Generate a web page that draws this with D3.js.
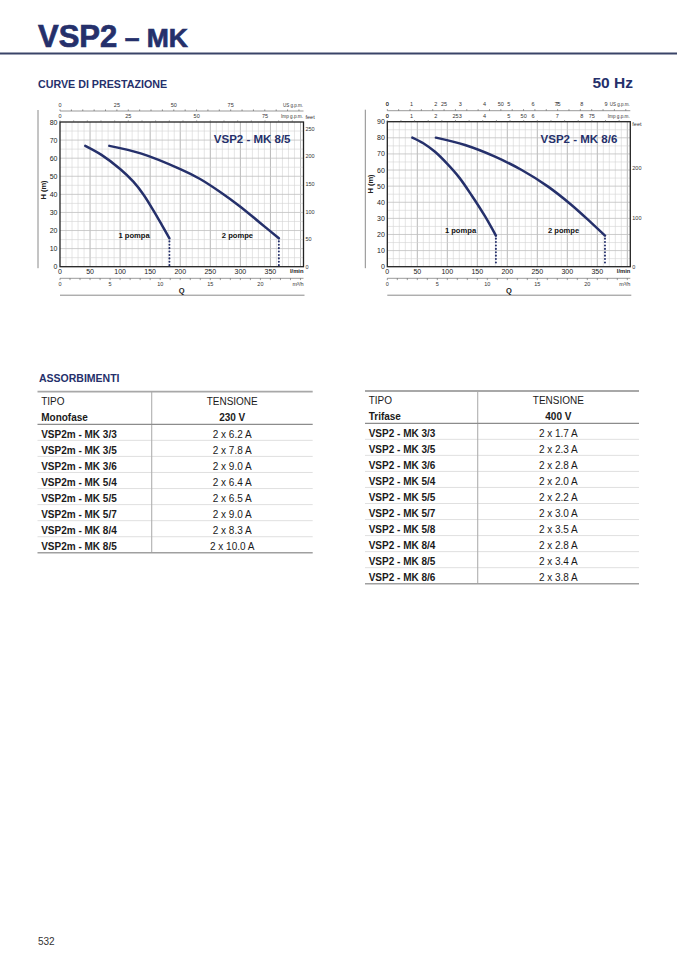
<!DOCTYPE html>
<html><head><meta charset="utf-8">
<script src="https://cdn.jsdelivr.net/npm/d3@7"></script>
<style>
body{margin:0;background:#fff}
svg{display:block}
text{font-family:"Liberation Sans",Arial,Helvetica,sans-serif}
</style>
</head><body>
<svg id="page" width="677" height="958"></svg>
<script>
// ---------------- DATA ----------------
const flowTicks = [0, 50, 100, 150, 200, 250, 300, 350];          // l/min
const m3hTicks = [0, 5, 10, 15, 20];                               // m³/h
const usGpmTicks = [0, 25, 50, 75];
const impGpmTicks = [0, 25, 50, 75];
const head85Ticks = [0, 10, 20, 30, 40, 50, 60, 70, 80];
const feet85Ticks = [0, 50, 100, 150, 200, 250];
const head86Ticks = [0, 10, 20, 30, 40, 50, 60, 70, 80, 90];
const feet86Ticks = [0, 100, 200];
const extraUsTicks86 = [0, 1, 2, 3, 4, 5, 6, 7, 8, 9];
const extraImpTicks86 = [0, 1, 2, 3, 4, 5, 6, 7, 8];

// [Q l/min, H m]
const mk85One = [[42,66.8],[69,61.8],[100,54],[122,47],[139,39.8],[155.5,31],[169.5,23],[182,15.7]];
const mk85Two = [[82,66.8],[135.5,62.5],[201,53.8],[233,48.5],[267,41.2],[300,33.2],[333,24.2],[364,15.7]];
const mk86One = [[41.7,80.1],[60,76.6],[79.5,71.3],[100,63.8],[120,55.3],[140.7,44.2],[163,31.2],[181,19.3]];
const mk86Two = [[81,80.1],[129.5,75.5],[179.5,68.3],[224,60],[268,49.7],[307,38.3],[341,26.9],[362.8,19.3]];

const monoModels = ["VSP2m - MK 3/3","VSP2m - MK 3/5","VSP2m - MK 3/6","VSP2m - MK 5/4","VSP2m - MK 5/5","VSP2m - MK 5/7","VSP2m - MK 8/4","VSP2m - MK 8/5"];
const monoAmps = ["2 x 6.2 A","2 x 7.8 A","2 x 9.0 A","2 x 6.4 A","2 x 6.5 A","2 x 9.0 A","2 x 8.3 A","2 x 10.0 A"];
const triModels = ["VSP2 - MK 3/3","VSP2 - MK 3/5","VSP2 - MK 3/6","VSP2 - MK 5/4","VSP2 - MK 5/5","VSP2 - MK 5/7","VSP2 - MK 5/8","VSP2 - MK 8/4","VSP2 - MK 8/5","VSP2 - MK 8/6"];
const triAmps = ["2 x 1.7 A","2 x 2.3 A","2 x 2.8 A","2 x 2.0 A","2 x 2.2 A","2 x 3.0 A","2 x 3.5 A","2 x 2.8 A","2 x 3.4 A","2 x 3.8 A"];

// unit conversions (l/min per unit)
const L_US = 3.785, L_IMP = 4.546, L_M3H = 16.667, M_FT = 0.3048, L_EXTRA = 40.5;
const Q_MAX = 405;

// ---------------- STYLE ----------------
const NAVY = "#25306b";
const svg = d3.select("#page");

// header
const title = svg.append("text").attr("x", 38).attr("y", 46.5)
  .attr("fill", NAVY).attr("stroke", NAVY).attr("stroke-width", 0.7)
  .attr("font-weight", "bold").attr("font-size", 31);
title.append("tspan").text("VSP2");
title.append("tspan").attr("font-size", 26.5).text(" – MK");
svg.append("line").attr("x1", 0).attr("x2", 677).attr("y1", 53.5).attr("y2", 53.5)
  .attr("stroke", "#3a4468").attr("stroke-width", 1.8);
svg.append("text").attr("x", 38).attr("y", 88).attr("fill", NAVY)
  .attr("font-weight", "bold").attr("font-size", 10.7).text("CURVE DI PRESTAZIONE");
svg.append("text").attr("x", 633).attr("y", 88).attr("text-anchor", "end").attr("fill", NAVY)
  .attr("font-weight", "bold").attr("font-size", 15.5).text("50 Hz");

function drawChart(cfg) {
  const g = svg.append("g");
  const x = d3.scaleLinear().domain([0, Q_MAX]).range([cfg.x0, cfg.x1]);
  const y = d3.scaleLinear().domain([0, cfg.hMax]).range([cfg.yBot, cfg.yTop]);
  const yFt = d3.scaleLinear().domain([0, cfg.hMax / M_FT]).range([cfg.yBot, cfg.yTop]);

  // outer guide lines
  g.append("line").attr("x1", cfg.x0 - 22).attr("x2", cfg.x0 - 22)
    .attr("y1", cfg.yTop - 12).attr("y2", cfg.yBot + 1.5).attr("stroke", "#8a8a8a").attr("stroke-width", 1);
  g.append("line").attr("x1", cfg.x0).attr("x2", cfg.x1 + 1)
    .attr("y1", cfg.yBot + 28.5).attr("y2", cfg.yBot + 28.5).attr("stroke", "#8a8a8a").attr("stroke-width", 1);

  // grid
  const vGrid = d3.range(10, Q_MAX, 10);
  g.selectAll(null).data(vGrid).join("line")
    .attr("x1", d => x(d)).attr("x2", d => x(d)).attr("y1", cfg.yTop).attr("y2", cfg.yBot)
    .attr("stroke", d => d % 50 === 0 ? "#b0b0b0" : "#d4d4d4")
    .attr("stroke-width", d => d % 50 === 0 ? 0.9 : 0.6);
  const hGrid = d3.range(5, cfg.hMax, 5);
  g.selectAll(null).data(hGrid).join("line")
    .attr("x1", cfg.x0).attr("x2", cfg.x1).attr("y1", d => y(d)).attr("y2", d => y(d))
    .attr("stroke", d => d % 10 === 0 ? "#c0c0c0" : "#d4d4d4")
    .attr("stroke-width", d => d % 10 === 0 ? 0.8 : 0.6);

  g.append("rect").attr("x", cfg.x0).attr("y", cfg.yTop)
    .attr("width", cfg.x1 - cfg.x0).attr("height", cfg.yBot - cfg.yTop)
    .attr("fill", "none").attr("stroke", "#222").attr("stroke-width", 1.3);

  // left H ticks
  g.selectAll(null).data(cfg.hTicks).join("text")
    .attr("x", cfg.x0 - 2.5).attr("y", d => y(d) + 2.5).attr("text-anchor", "end")
    .attr("font-size", 7).attr("fill", "#222").text(d => d);
  g.append("text").attr("transform", `translate(${cfg.x0 - 14},${cfg.hLabelY}) rotate(-90)`)
    .attr("text-anchor", "middle").attr("font-size", 7.5).attr("font-weight", "bold").attr("fill", "#222").text("H (m)");

  // right feet ticks
  g.selectAll(null).data(cfg.feetTicks).join("text")
    .attr("x", cfg.x1 + 2).attr("y", d => yFt(d) + 2).attr("font-size", 5.5).attr("fill", "#333").text(d => d);
  g.append("text").attr("x", cfg.x1 + 2).attr("y", cfg.yTop + cfg.feetDy).attr("font-size", 5.5)
    .attr("fill", "#333").text("feet");

  // bottom l/min
  g.selectAll(null).data(flowTicks).join("text")
    .attr("x", d => x(d)).attr("y", cfg.yBot + 7).attr("text-anchor", "middle")
    .attr("font-size", 7).attr("fill", "#222").text(d => d);
  g.append("text").attr("x", cfg.x1).attr("y", cfg.yBot + 6.5).attr("text-anchor", "end")
    .attr("font-size", 5.8).attr("font-weight", "bold").attr("fill", "#222").text("l/min");

  // m³/h axis
  const ym = cfg.yBot + 11.6;
  g.append("line").attr("x1", cfg.x0).attr("x2", cfg.x1).attr("y1", ym).attr("y2", ym)
    .attr("stroke", "#555").attr("stroke-width", 0.6);
  g.selectAll(null).data(d3.range(0, Q_MAX / L_M3H, 1)).join("line")
    .attr("x1", d => x(d * L_M3H)).attr("x2", d => x(d * L_M3H)).attr("y1", ym).attr("y2", ym + 1.8)
    .attr("stroke", "#555").attr("stroke-width", 0.6);
  g.selectAll(null).data(m3hTicks).join("text")
    .attr("x", d => x(d * L_M3H)).attr("y", ym + 7.5).attr("text-anchor", "middle")
    .attr("font-size", 5.5).attr("fill", "#333").text(d => d);
  g.append("text").attr("x", cfg.x1).attr("y", ym + 7.5).attr("text-anchor", "end")
    .attr("font-size", 5.5).attr("fill", "#333").text("m³/h");
  g.append("text").attr("x", (cfg.x0 + cfg.x1) / 2).attr("y", cfg.yBot + 26).attr("text-anchor", "middle")
    .attr("font-size", 7.5).attr("font-weight", "bold").attr("fill", "#222").text("Q");

  // top US g.p.m. axis
  const yu = cfg.yTop - 11;
  g.append("line").attr("x1", cfg.x0).attr("x2", cfg.x1).attr("y1", yu).attr("y2", yu)
    .attr("stroke", "#555").attr("stroke-width", 0.6);
  g.selectAll(null).data(d3.range(0, Q_MAX / L_US, 5)).join("line")
    .attr("x1", d => x(d * L_US)).attr("x2", d => x(d * L_US)).attr("y1", yu).attr("y2", yu - 1.6)
    .attr("stroke", "#555").attr("stroke-width", 0.6);
  const usLabels = usGpmTicks.map(d => ({q: d * L_US, t: d}))
    .concat(cfg.extraUs.map(d => ({q: d * L_EXTRA, t: d})));
  g.selectAll(null).data(usLabels).join("text")
    .attr("x", d => x(d.q)).attr("y", yu - 4.5).attr("text-anchor", "middle")
    .attr("font-size", 5.5).attr("fill", "#333").text(d => d.t);
  g.append("text").attr("x", cfg.x1 - 0.5).attr("y", yu - 4.5).attr("text-anchor", "end")
    .attr("font-size", 5.3).attr("fill", "#333")
    .attr("textLength", 20).attr("lengthAdjust", "spacingAndGlyphs").text("US g.p.m.");

  // top Imp g.p.m.
  g.selectAll(null).data(d3.range(0, Q_MAX / L_IMP, 5)).join("line")
    .attr("x1", d => x(d * L_IMP)).attr("x2", d => x(d * L_IMP)).attr("y1", cfg.yTop).attr("y2", cfg.yTop - 1.6)
    .attr("stroke", "#555").attr("stroke-width", 0.6);
  const impLabels = impGpmTicks.map(d => ({q: d * L_IMP, t: d}))
    .concat(cfg.extraImp.map(d => ({q: d * L_EXTRA, t: d})));
  g.selectAll(null).data(impLabels).join("text")
    .attr("x", d => x(d.q)).attr("y", cfg.yTop - 3.8).attr("text-anchor", "middle")
    .attr("font-size", 5.5).attr("fill", "#333").text(d => d.t);
  g.append("text").attr("x", cfg.x1 - 0.5).attr("y", cfg.yTop - 3.8).attr("text-anchor", "end")
    .attr("font-size", 5.3).attr("fill", "#333")
    .attr("textLength", 22).attr("lengthAdjust", "spacingAndGlyphs").text("Imp g.p.m.");

  // chart title
  g.append("text").attr("x", cfg.x1 - 13).attr("y", cfg.yTop + 21.3).attr("text-anchor", "end")
    .attr("font-size", 11.5).attr("font-weight", "bold").attr("fill", NAVY).text(cfg.title);

  // curves
  const line = d3.line().x(d => x(d[0])).y(d => y(d[1])).curve(d3.curveCatmullRom.alpha(0.5));
  [cfg.one, cfg.two].forEach(s => {
    g.append("path").attr("d", line(s)).attr("fill", "none").attr("stroke", NAVY)
      .attr("stroke-width", 2.5).attr("stroke-linecap", "round");
    const e = s[s.length - 1];
    g.append("line").attr("x1", x(e[0])).attr("x2", x(e[0])).attr("y1", y(e[1]) + 3).attr("y2", y(0) - 1.5)
      .attr("stroke", NAVY).attr("stroke-width", 2).attr("stroke-linecap", "round")
      .attr("stroke-dasharray", "0.1 3.3");
  });
  const e1 = cfg.one[cfg.one.length - 1], e2 = cfg.two[cfg.two.length - 1];
  g.append("text").attr("x", x(e1[0]) - 51).attr("y", y(e1[1]) + cfg.labelDy)
    .attr("font-size", 7.6).attr("font-weight", "bold").attr("fill", "#111").text("1 pompa");
  g.append("text").attr("x", x(e2[0]) - 57).attr("y", y(e2[1]) + cfg.labelDy)
    .attr("font-size", 7.6).attr("font-weight", "bold").attr("fill", "#111").text("2 pompe");
}

drawChart({x0: 60, x1: 303.5, yTop: 122, yBot: 266.7, hMax: 80, hTicks: head85Ticks, feetTicks: feet85Ticks,
  one: mk85One, two: mk85Two, title: "VSP2 - MK 8/5", extraUs: [], extraImp: [], hLabelY: 190, feetDy: -3, labelDy: -0.5});
drawChart({x0: 387.3, x1: 630.3, yTop: 121.7, yBot: 266.7, hMax: 90, hTicks: head86Ticks, feetTicks: feet86Ticks,
  one: mk86One, two: mk86Two, title: "VSP2 - MK 8/6", extraUs: extraUsTicks86, extraImp: extraImpTicks86, hLabelY: 184, feetDy: 4, labelDy: -2.5});

// ---------------- TABLES ----------------
svg.append("text").attr("x", 39).attr("y", 381.7).attr("fill", NAVY)
  .attr("font-weight", "bold").attr("font-size", 10.5).text("ASSORBIMENTI");

function drawTable(t) {
  const g = svg.append("g");
  const rowY = d3.scaleLinear().domain([0, 1]).range([t.headLine, t.headLine + t.rowH]);
  const n = t.models.length;
  const bottom = rowY(n);
  const vc = (t.xDiv + t.x1) / 2;
  // row separators
  g.selectAll(null).data(d3.range(1, n)).join("line")
    .attr("x1", t.x0).attr("x2", t.x1).attr("y1", d => rowY(d)).attr("y2", d => rowY(d))
    .attr("stroke", "#d2d2d2").attr("stroke-width", 0.7);
  g.append("line").attr("x1", t.xDiv).attr("x2", t.xDiv).attr("y1", t.top).attr("y2", bottom)
    .attr("stroke", "#b0b0b0").attr("stroke-width", 1.1);
  g.append("line").attr("x1", t.x0).attr("x2", t.x1).attr("y1", t.top).attr("y2", t.top)
    .attr("stroke", "#a8a8a8").attr("stroke-width", 1.8);
  g.append("line").attr("x1", t.x0).attr("x2", t.x1).attr("y1", t.headLine).attr("y2", t.headLine)
    .attr("stroke", "#8c8c8c").attr("stroke-width", 1.2);
  g.append("line").attr("x1", t.x0).attr("x2", t.x1).attr("y1", bottom).attr("y2", bottom)
    .attr("stroke", "#a0a0a0").attr("stroke-width", 1.4);
  // header
  g.append("text").attr("x", t.x0 + 3.7).attr("y", t.top + 12.8).attr("font-size", 10).attr("fill", "#1a1a1a").text("TIPO");
  g.append("text").attr("x", t.x0 + 3.7).attr("y", t.top + 29.3).attr("font-size", 10).attr("font-weight", "bold").attr("fill", "#1a1a1a").text(t.sub);
  g.append("text").attr("x", vc).attr("y", t.top + 12.8).attr("text-anchor", "middle").attr("font-size", 10).attr("fill", "#1a1a1a").text("TENSIONE");
  g.append("text").attr("x", vc).attr("y", t.top + 29.3).attr("text-anchor", "middle").attr("font-size", 10).attr("font-weight", "bold").attr("fill", "#1a1a1a").text(t.volt);
  // rows
  g.selectAll(null).data(t.models).join("text")
    .attr("x", t.x0 + 3.7).attr("y", (d, i) => rowY(i) + 13.4)
    .attr("font-size", 10).attr("font-weight", "bold").attr("fill", "#1a1a1a").text(d => d);
  g.selectAll(null).data(t.amps).join("text")
    .attr("x", vc).attr("y", (d, i) => rowY(i) + 13.4).attr("text-anchor", "middle")
    .attr("font-size", 10).attr("fill", "#1a1a1a").text(d => d);
}
drawTable({x0: 37.5, x1: 312.7, xDiv: 151.7, top: 391.7, headLine: 424.3, rowH: 16.06,
  models: monoModels, amps: monoAmps, sub: "Monofase", volt: "230 V"});
drawTable({x0: 365, x1: 639, xDiv: 477.7, top: 391, headLine: 423.3, rowH: 16.04,
  models: triModels, amps: triAmps, sub: "Trifase", volt: "400 V"});

svg.append("text").attr("x", 38).attr("y", 945).attr("font-size", 10).attr("fill", "#333").text("532");
</script>
</body></html>
